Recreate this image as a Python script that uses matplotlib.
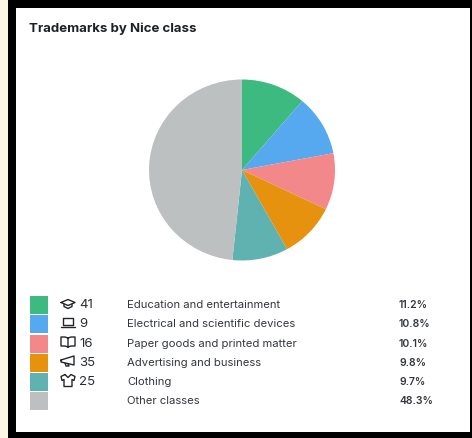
import matplotlib
matplotlib.use('Agg')
import matplotlib.pyplot as plt
from matplotlib.patches import Rectangle

plt.rcParams['font.family'] = ['Inter', 'DejaVu Sans']

# data
labels = ['Education and entertainment', 'Electrical and scientific devices',
          'Paper goods and printed matter', 'Advertising and business',
          'Clothing', 'Other classes']
shares = [11.2, 10.8, 10.1, 9.8, 9.7, 48.3]
share_labels = ['11.2%', '10.8%', '10.1%', '9.8%', '9.7%', '48.3%']
class_numbers = ['41', '9', '16', '35', '25', '']
colors = ['#3dba80', '#56a9ee', '#f2888a', '#e6920f', '#5fb2b0', '#bcc0c1']
icons = ['cap', 'laptop', 'book', 'horn', 'shirt', None]

W, H = 472, 439
fig = plt.figure(figsize=(W / 100, H / 100), dpi=100, facecolor='#fdf5e4')

# pixel coords overlay for frame + legend
bg = fig.add_axes([0, 0, 1, 1])
bg.set_xlim(0, W)
bg.set_ylim(H, 0)
bg.axis('off')
bg.add_patch(Rectangle((8, 1), W - 8, H - 1, fc='black', lw=0))
bg.add_patch(Rectangle((16, 9), 454, 424, fc='white', lw=0))

bg.text(29, 29, 'Trademarks by Nice class', fontsize=9.5, fontweight='bold',
        color='#1c2027', va='center', ha='left')

# pie is slightly squashed in the reference
cx, cy, rx, ry = 242, 171, 93, 90.5
pie_ax = fig.add_axes([(cx - rx) / W, 1 - (cy + ry) / H, 2 * rx / W, 2 * ry / H])
pie_ax.pie(shares, colors=colors, startangle=90, counterclock=False, radius=1.0,
           wedgeprops={'linewidth': 0})
pie_ax.set_aspect('auto')
pie_ax.set_xlim(-1, 1)
pie_ax.set_ylim(-1, 1)


def draw_icon(kind, x, y):
    # x,y is icon centre in pixels
    kw = dict(color='#22262b', lw=1.0, solid_capstyle='round')
    def line(pts):
        bg.plot([x + p[0] for p in pts], [y + p[1] for p in pts], **kw)
    if kind == 'cap':
        line([(-7, -1), (0, -4), (7, -1), (0, 2), (-7, -1)])
        line([(-4, 1), (-4, 3), (0, 5), (4, 3), (4, 1)])
    elif kind == 'laptop':
        line([(-5, -5), (5, -5), (5, 2), (-5, 2), (-5, -5)])
        line([(-7, 4.5), (7, 4.5)])
    elif kind == 'book':
        line([(0, -4), (-3, -5), (-7, -5), (-7, 4), (-3, 4), (0, 5), (3, 4), (7, 4), (7, -5), (3, -5), (0, -4), (0, 5)])
    elif kind == 'horn':
        line([(-7, -1), (6, -5), (6, 4), (-7, 1), (-7, -1)])
        line([(-3, 2), (-2, 5), (1, 5), (0, 3)])
    elif kind == 'shirt':
        line([(-3, -6), (-7, -4), (-6, 0), (-4, -1), (-4, 6), (4, 6), (4, -1), (6, 0), (7, -4), (3, -6), (0, -3), (-3, -6)])


row_y = [306, 325, 344.5, 363.5, 383, 402]
for i, name in enumerate(labels):
    y = row_y[i]
    bg.add_patch(Rectangle((30, y - 9), 18, 18, fc=colors[i], lw=0))
    if icons[i]:
        draw_icon(icons[i], 68, y - 1.5)
    bg.text(79, y - 0.8, class_numbers[i], fontsize=9.5, color='#2a2e33', va='center', ha='left')
    bg.text(127, y - 0.8, name, fontsize=8.1, color='#33373c', va='center', ha='left')
    bg.text(399, y - 0.8, share_labels[i], fontsize=7.5, fontweight='semibold', color='#33373c', va='center', ha='left')

fig.savefig('out.png', dpi=100, facecolor=fig.get_facecolor())
